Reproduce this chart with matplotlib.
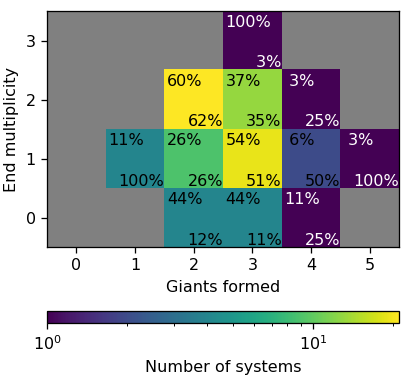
import numpy as np
import matplotlib
matplotlib.use("Agg")
import matplotlib.pyplot as plt
from matplotlib.colors import LogNorm

giants_formed = [0, 1, 2, 3, 4, 5]
end_multiplicity = [0, 1, 2, 3]
# number of systems, rows = end multiplicity 0..3, cols = giants formed 0..5
counts_m0 = [0, 0, 4, 4, 1, 0]
counts_m1 = [0, 4, 9, 19, 2, 1]
counts_m2 = [0, 0, 21, 13, 1, 0]
counts_m3 = [0, 0, 0, 1, 0, 0]

counts = np.array([counts_m0, counts_m1, counts_m2, counts_m3], dtype=float)
row_frac = counts / counts.sum(axis=1, keepdims=True) * 100
col_frac = counts / counts.sum(axis=0, keepdims=True) * 100

DPI = 115
fig = plt.figure(figsize=(411 / DPI, 376 / DPI), dpi=DPI)
W, H = 411, 376
ax = fig.add_axes([47 / W, (H - 247.3) / H, (399 - 47) / W, (247.3 - 11) / H])
cax = fig.add_axes([47 / W, (H - 323.3) / H, (399 - 47) / W, 12 / H])

ax.set_facecolor('gray')
masked = np.ma.masked_where(counts == 0, counts)
norm = LogNorm(vmin=1, vmax=counts.max())
im = ax.imshow(masked, origin='lower', cmap='viridis', norm=norm,
               aspect='auto', interpolation='nearest',
               extent=(-0.5, len(giants_formed) - 0.5, -0.5, len(end_multiplicity) - 0.5))

for j, m in enumerate(end_multiplicity):
    for i, g in enumerate(giants_formed):
        if counts[j, i] == 0:
            continue
        color = 'white' if counts[j, i] < 2 else 'black'
        ax.text(g - 0.5 + 0.045, m + 0.5 - 0.065, '{:2d}%'.format(int(round(row_frac[j, i]))),
                ha='left', va='top', color=color)
        ax.text(g + 0.5, m - 0.5 + 0.045, '{:2d}%'.format(int(round(col_frac[j, i]))),
                ha='right', va='baseline', color=color)

ax.set_xticks(giants_formed)
ax.set_yticks(end_multiplicity)
ax.set_xlim(-0.5, 5.5)
ax.set_ylim(-0.5, 3.5)
ax.set_xlabel('Giants formed')
ax.set_ylabel('End multiplicity')

cb = fig.colorbar(im, cax=cax, orientation='horizontal')
cb.set_label('Number of systems')

fig.savefig('out.png', dpi=DPI)
